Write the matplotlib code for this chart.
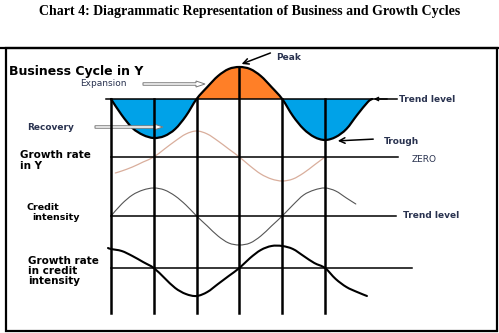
import numpy as np
import matplotlib
matplotlib.use("Agg")
import matplotlib.pyplot as plt
from matplotlib.path import Path
from matplotlib.patches import PathPatch, Rectangle, FancyArrow

# phase along the cycle, one grid column per quarter cycle
cycle_phase = [0, .25, .5, .75, 1, 1.25, 1.5, 1.75, 2, 2.25, 2.5, 2.75, 3,
               3.25, 3.5, 3.75, 4, 4.25, 4.5, 4.75, 5, 5.25, 5.5, 5.75, 6, 6.1]
cycle_dev = [0, -16, -29, -36, -39, -37, -30, -17, 0, 12, 23, 30, 32,
             30, 23, 12, 0, -17, -30, -38, -41, -38, -30, -16, -3, 0]

growth_phase = [0.1, .25, .5, .75, 1, 1.25, 1.5, 1.75, 2, 2.25, 2.5, 2.75, 3,
                3.25, 3.5, 3.75, 4, 4.25, 4.5, 4.75, 5]
growth_dev = [-16, -14, -10, -5, 0, 8, 16, 23, 26, 23, 16, 8, 0,
              -9, -17, -22, -24, -22, -16, -8, 0]

credit_phase = [0, .25, .5, .75, 1, 1.25, 1.5, 1.75, 2, 2.25, 2.5, 2.75, 3,
                3.25, 3.5, 3.75, 4, 4.25, 4.5, 4.75, 5, 5.25, 5.5, 5.72]
credit_dev = [0, 12, 21, 26, 28, 26, 20, 11, 0, -10, -20, -27, -29,
              -27, -20, -10, 0, 11, 21, 26, 28, 25, 18, 12]

cgrowth_phase = [-0.07, 0, .25, .5, .75, 1, 1.25, 1.5, 1.75, 2, 2.25, 2.5, 2.75, 3,
                 3.25, 3.5, 3.75, 4, 4.25, 4.5, 4.75, 5, 5.25, 5.5, 5.75, 5.98]
cgrowth_dev = [20, 19, 17, 12, 6, 0, -10, -20, -26, -28, -24, -16, -8, 0,
               10, 18, 22, 22, 19, 12, 5, 0, -11, -19, -24, -28]

grid_phase = [0, 1, 2, 3, 4, 5]

# layout (figure pixels)
X0, STEP = 111, 42.8
TREND_Y, ZERO_Y, CREDIT_Y, CGROWTH_Y = 99, 157, 216, 268
GRID_BOTTOM = 313
BLUE, ORANGE = "#00A2E8", "#FF7F27"
NAVY = "#2A3350"


def to_xy(phase, dev, base):
    return X0 + np.asarray(phase) * STEP, base - np.asarray(dev, dtype=float)


def smooth(xs, ys, i0=0, i1=None):
    # Catmull-Rom through the points, as cubic bezier segments
    pts = np.column_stack([xs, ys])
    n = len(pts)
    i1 = n - 1 if i1 is None else i1
    verts, codes = [pts[i0]], [Path.MOVETO]
    for i in range(i0, i1):
        p0, p1 = pts[max(i - 1, 0)], pts[i]
        p2, p3 = pts[i + 1], pts[min(i + 2, n - 1)]
        verts += [p1 + (p2 - p0) / 6, p2 - (p3 - p1) / 6, p2]
        codes += [Path.CURVE4] * 3
    return verts, codes


def curve(ax, xs, ys, **kw):
    v, c = smooth(xs, ys)
    ax.add_patch(PathPatch(Path(v, c), fill=False, capstyle="round", **kw))


fig = plt.figure(figsize=(4.99, 3.33), dpi=100)
ax = fig.add_axes([0, 0, 1, 1])
ax.set_xlim(0, 499)
ax.set_ylim(333, 0)
ax.axis("off")

fig.text(0.5, 1 - 12 / 333, "Chart 4: Diagrammatic Representation of Business and Growth Cycles",
         ha="center", va="center", fontsize=10, fontweight="bold", family="Liberation Serif")

# frame
ax.plot([0, 499], [48, 48], color="black", lw=1.6)
ax.add_patch(Rectangle((6, 48), 491, 283, fill=False, ec="black", lw=1.6))

# business cycle with filled phases
cx, cy = to_xy(cycle_phase, cycle_dev, TREND_Y)
breaks = [0, cycle_phase.index(2), cycle_phase.index(4), len(cycle_phase) - 1]
for k in range(3):
    v, c = smooth(cx, cy, breaks[k], breaks[k + 1])
    v.append(v[0])
    c.append(Path.CLOSEPOLY)
    ax.add_patch(PathPatch(Path(v, c), fc=ORANGE if k == 1 else BLUE, ec="none"))

# horizontal reference lines
ax.plot([X0 - 5, 397], [TREND_Y, TREND_Y], color="black", lw=1.1)
ax.plot([X0, 398], [ZERO_Y, ZERO_Y], color="black", lw=1.1)
ax.plot([X0, 396], [CREDIT_Y, CREDIT_Y], color="black", lw=1.1)
ax.plot([X0, 412], [CGROWTH_Y, CGROWTH_Y], color="black", lw=1.1)

# vertical grid, starting at the cycle or the trend line
for p in grid_phase:
    dev = cycle_dev[cycle_phase.index(p)]
    top = TREND_Y - max(dev, 0)
    x = X0 + p * STEP
    ax.plot([x, x], [top, GRID_BOTTOM], color="black", lw=1.8)

curve(ax, cx, cy, ec="black", lw=1.6)
curve(ax, *to_xy(growth_phase, growth_dev, ZERO_Y), ec="#D9AE9C", lw=0.9)
curve(ax, *to_xy(credit_phase, credit_dev, CREDIT_Y), ec="#555555", lw=0.8)
curve(ax, *to_xy(cgrowth_phase, cgrowth_dev, CGROWTH_Y), ec="black", lw=1.5)

# labels
bold = dict(fontweight="bold", va="center", ha="left", color="black")
ax.text(9, 72, "Business Cycle in Y", fontsize=9, **bold)
ax.text(20, 155, "Growth rate", fontsize=7.5, **bold)
ax.text(20, 166, "in Y", fontsize=7.5, **bold)
ax.text(27, 208, "Credit", fontsize=6.8, **bold)
ax.text(32, 218, "intensity", fontsize=6.8, **bold)
ax.text(28, 261, "Growth rate", fontsize=7.5, **bold)
ax.text(28, 271, "in credit", fontsize=7.5, **bold)
ax.text(28, 281, "intensity", fontsize=7.5, **bold)

small = dict(fontsize=6.5, va="center", ha="left", color=NAVY)
ax.text(80, 84, "Expansion", **small)
ax.text(27, 128, "Recovery", fontweight="bold", **small)
ax.text(276, 58, "Peak", fontweight="bold", **small)
ax.text(399, 100, "Trend level", fontweight="bold", **small)
ax.text(384, 142, "Trough", fontweight="bold", **small)
ax.text(412, 159, "ZERO", **small)
ax.text(403, 215, "Trend level", fontweight="bold", **small)

# pointers
for x, y, dx in [(143, 84, 62), (95, 127, 68)]:
    ax.add_patch(FancyArrow(x, y, dx, 0, width=2.5, head_width=6, head_length=9,
                            length_includes_head=True, fc="white", ec="#777777", lw=0.7))
ax.annotate("", xy=(239, 65), xytext=(273, 52),
            arrowprops=dict(arrowstyle="->", color="black", lw=1.1, mutation_scale=10))
ax.annotate("", xy=(335, 141), xytext=(376, 139),
            arrowprops=dict(arrowstyle="->", color="black", lw=1.1, mutation_scale=10))
ax.annotate("", xy=(371, 99), xytext=(390, 99),
            arrowprops=dict(arrowstyle="->", color="black", lw=1.0, mutation_scale=6))

fig.savefig("out.png", dpi=100)
